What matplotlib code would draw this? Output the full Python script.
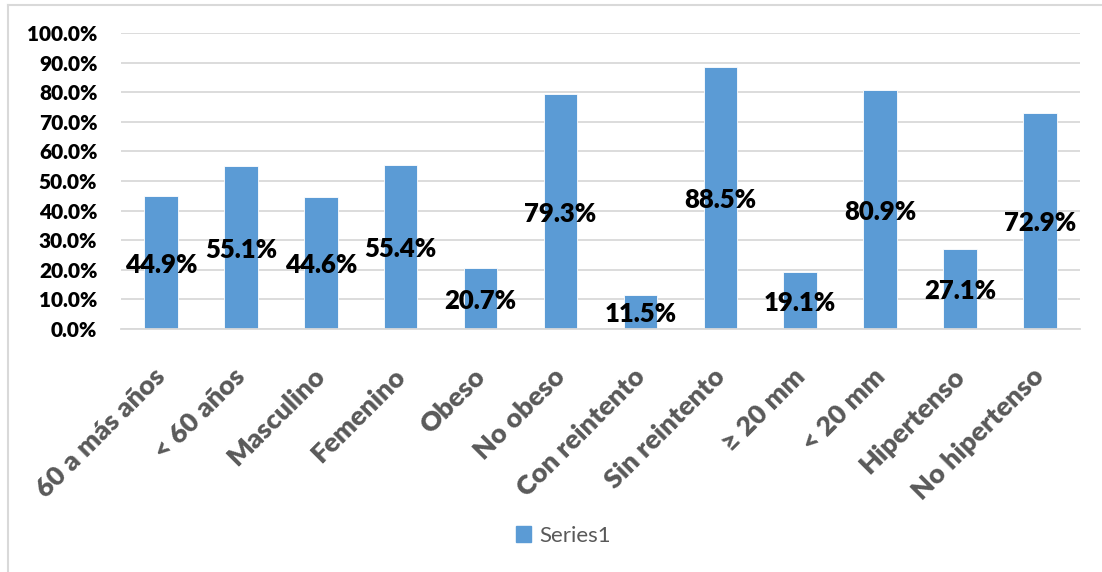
import matplotlib.pyplot as plt
from matplotlib.lines import Line2D
from matplotlib.patches import Rectangle
from matplotlib.ticker import FuncFormatter, MultipleLocator
from matplotlib.transforms import ScaledTranslation

categories = [
    "60 a más años", "< 60 años", "Masculino", "Femenino", "Obeso", "No obeso",
    "Con reintento", "Sin reintento", "≥ 20 mm", "< 20 mm", "Hipertenso", "No hipertenso",
]
percentages = [44.9, 55.1, 44.6, 55.4, 20.7, 79.3, 11.5, 88.5, 19.1, 80.9, 27.1, 72.9]
series_name = "Series1"

BAR_COLOR = "#5B9BD5"
GRID_COLOR = "#D9D9D9"
TEXT_GRAY = "#595959"
HEAVY = "heavy"

plt.rcParams["font.family"] = ["Lato", "DejaVu Sans"]

fig = plt.figure(figsize=(11.02, 5.72), dpi=100)
ax = fig.add_axes([0.1098, 0.4248, 0.8702, 0.5175])

x = range(len(categories))
ax.bar(x, percentages, width=0.42, color=BAR_COLOR, edgecolor="white",
       linewidth=0.6, zorder=2, label=series_name)

# value labels sit roughly in the middle of each bar
for xi, v in zip(x, percentages):
    ax.text(xi, v / 2 - 0.8, f"{v:.1f}%", ha="center", va="center",
            fontsize=18.5, fontweight=HEAVY, color="black", zorder=3)

ax.set_xlim(-0.5, len(categories) - 0.5)
ax.set_ylim(0, 100)
ax.yaxis.set_major_locator(MultipleLocator(10))
ax.yaxis.set_major_formatter(FuncFormatter(lambda v, _: f"{v:.1f}%"))
ax.grid(axis="y", color=GRID_COLOR, linewidth=1.3, zorder=0)
ax.set_axisbelow(True)

for side in ("top", "right", "left"):
    ax.spines[side].set_visible(False)
ax.spines["bottom"].set_color(GRID_COLOR)
ax.spines["bottom"].set_linewidth(1.3)

ax.tick_params(axis="both", length=0)
ax.tick_params(axis="y", pad=17)
for lbl in ax.get_yticklabels():
    lbl.set_fontsize(15)
    lbl.set_fontweight(HEAVY)
    lbl.set_color("black")

ax.set_xticks(list(x))
ax.set_xticklabels(categories, rotation=45, ha="right", va="top",
                   rotation_mode="anchor", fontsize=19.5, fontweight=HEAVY,
                   color=TEXT_GRAY)
ax.tick_params(axis="x", pad=25)
# pull the slanted labels slightly left of their ticks
shift = ScaledTranslation(-8 / 100, 0, fig.dpi_scale_trans)
for lbl in ax.get_xticklabels():
    lbl.set_transform(lbl.get_transform() + shift)

fig.legend(
    handles=[Rectangle((0, 0), 1, 1, color=BAR_COLOR)], labels=[series_name],
    loc="center", bbox_to_anchor=(0.511, 0.063), frameon=False,
    handlelength=0.7, handleheight=0.7, handletextpad=0.35,
    prop={"size": 16}, labelcolor=TEXT_GRAY,
)

# thin frame along the left and top edges of the chart area
fig.add_artist(Line2D([0.0075, 0.0075], [0.0, 0.991], color=GRID_COLOR,
                      linewidth=1.5, transform=fig.transFigure))
fig.add_artist(Line2D([0.0075, 1.0], [0.991, 0.991], color=GRID_COLOR,
                      linewidth=1.5, transform=fig.transFigure))

fig.savefig("out.png", dpi=100, facecolor="white")
